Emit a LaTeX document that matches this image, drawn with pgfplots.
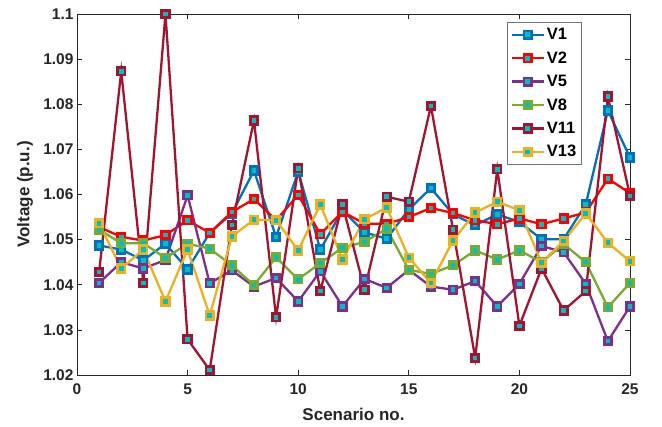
\documentclass[border=0pt]{standalone}
\usepackage{fontspec}
\setmainfont{Liberation Sans}
\usepackage{pgfplots}
\pgfplotsset{compat=1.18}
\definecolor{c1}{rgb}{0,0.447,0.741}
\definecolor{c2}{rgb}{1,0,0}
\definecolor{c5}{rgb}{0.494,0.184,0.556}
\definecolor{c8}{rgb}{0.466,0.674,0.188}
\definecolor{c11}{rgb}{0.635,0.078,0.184}
\definecolor{c13}{rgb}{0.929,0.694,0.125}
\definecolor{mk}{rgb}{0,0.75,0.75}
\definecolor{axc}{rgb}{0.15,0.15,0.15}
\begin{document}
\begin{tikzpicture}
\useasboundingbox (-77pt,-52pt) rectangle (585pt,375pt);
\begin{axis}[
  at={(0pt,0pt)}, anchor=south west,
  scale only axis, width=553pt, height=361pt,
  xmin=0, xmax=25, ymin=1.02, ymax=1.1,
  xtick={0,5,10,15,20,25},
  ytick={1.02,1.03,1.04,1.05,1.06,1.07,1.08,1.09,1.1},
  yticklabels={1.02,1.03,1.04,1.05,1.06,1.07,1.08,1.09,1.1},
  tick align=inside, major tick length=5pt,
  tick style={axc, line width=0.7pt},
  axis line style={axc, line width=0.8pt},
  ticklabel style={font=\fontsize{15.5}{18}\selectfont\bfseries, text=axc},
  x tick label style={yshift=-5pt},
  /pgf/number format/assume math mode=true,
  xlabel={Scenario no.}, ylabel={Voltage (p.u.)},
  label style={font=\fontsize{17}{20}\selectfont\bfseries, text=axc},
  x label style={at={(axis description cs:0.5,-0.108)}, anchor=center},
  y label style={at={(axis description cs:-0.094,0.5)}, anchor=center},
  every axis plot/.append style={line width=2.3pt, mark=square*, mark size=3.7pt, mark options={fill=mk, line width=2.8pt, solid}},
  legend style={at={(0.778,0.978)}, anchor=north west, draw=black!55, line width=0.8pt,
    font=\fontsize{16.5}{19}\selectfont\bfseries, inner xsep=3pt, inner ysep=4pt, row sep=6.5pt, fill=white},
  legend cell align=left,
  legend image code/.code={\draw[mark repeat=2, mark phase=2] plot coordinates {(0pt,0pt) (16pt,0pt) (32pt,0pt)};},
]
\addplot[c1] coordinates {(1,1.0487)(2,1.0478)(3,1.0454)(4,1.0491)(5,1.0434)(6,1.0515)(7,1.0558)(8,1.0653)(9,1.0506)(10,1.0651)(11,1.0478)(12,1.0565)(13,1.0516)(14,1.0502)(15,1.0567)(16,1.0614)(17,1.0556)(18,1.0532)(19,1.0556)(20,1.0539)(21,1.0501)(22,1.0501)(23,1.0578)(24,1.0786)(25,1.0682)};
\addlegendentry{V1}
\addplot[c2] coordinates {(1,1.0528)(2,1.0506)(3,1.0498)(4,1.0510)(5,1.0543)(6,1.0515)(7,1.0561)(8,1.0590)(9,1.0543)(10,1.0599)(11,1.0512)(12,1.0562)(13,1.0535)(14,1.0535)(15,1.0550)(16,1.0570)(17,1.0559)(18,1.0543)(19,1.0534)(20,1.0547)(21,1.0534)(22,1.0547)(23,1.0560)(24,1.0635)(25,1.0603)};
\addlegendentry{V2}
\addplot[c5] coordinates {(1,1.0404)(2,1.0450)(3,1.0436)(4,1.0455)(5,1.0598)(6,1.0403)(7,1.0432)(8,1.0396)(9,1.0415)(10,1.0363)(11,1.0430)(12,1.0352)(13,1.0413)(14,1.0393)(15,1.0433)(16,1.0396)(17,1.0389)(18,1.0408)(19,1.0352)(20,1.0402)(21,1.0486)(22,1.0472)(23,1.0402)(24,1.0275)(25,1.0352)};
\addlegendentry{V5}
\addplot[c8] coordinates {(1,1.0522)(2,1.0492)(3,1.0492)(4,1.0459)(5,1.0491)(6,1.0480)(7,1.0443)(8,1.0399)(9,1.0461)(10,1.0412)(11,1.0448)(12,1.0482)(13,1.0495)(14,1.0524)(15,1.0433)(16,1.0424)(17,1.0443)(18,1.0476)(19,1.0456)(20,1.0476)(21,1.0450)(22,1.0490)(23,1.0450)(24,1.0350)(25,1.0404)};
\addlegendentry{V8}
\addplot[c11] coordinates {(1,1.0428)(2,1.0873)(3,1.0404)(4,1.1000)(5,1.0279)(6,1.0211)(7,1.0532)(8,1.0764)(9,1.0328)(10,1.0658)(11,1.0386)(12,1.0578)(13,1.0389)(14,1.0595)(15,1.0584)(16,1.0796)(17,1.0522)(18,1.0238)(19,1.0656)(20,1.0309)(21,1.0436)(22,1.0343)(23,1.0386)(24,1.0817)(25,1.0597)};
\addlegendentry{V11}
\addplot[c13] coordinates {(1,1.0536)(2,1.0436)(3,1.0478)(4,1.0363)(5,1.0478)(6,1.0332)(7,1.0507)(8,1.0544)(9,1.0543)(10,1.0476)(11,1.0578)(12,1.0456)(13,1.0545)(14,1.0571)(15,1.0460)(16,1.0404)(17,1.0498)(18,1.0560)(19,1.0584)(20,1.0565)(21,1.0449)(22,1.0497)(23,1.0558)(24,1.0493)(25,1.0452)};
\addlegendentry{V13}
\end{axis}
\end{tikzpicture}
\end{document}
